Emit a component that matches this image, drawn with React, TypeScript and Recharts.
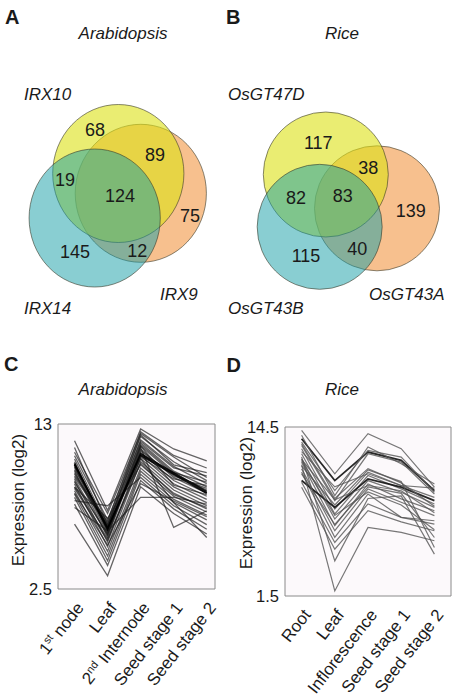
import React from 'react';
import {
  ScatterChart,
  Scatter,
  LineChart,
  Line,
  XAxis,
  YAxis,
  CartesianGrid,
  ReferenceArea,
} from 'recharts';

const FONT = '"Liberation Sans", Arial, Helvetica, sans-serif';
const INK = '#1a1a1a';

// ---------------- Venn data (set order: orange, yellow, cyan) ----------------
const arabidopsisSets = ['IRX9', 'IRX10', 'IRX14'];
const arabidopsisSetX = [0.343, 0, -0.36];
const arabidopsisSetY = [0.287, 0, 0.645];
const arabidopsisCounts = [68, 89, 19, 124, 75, 145, 12];
const arabidopsisCountX = [-0.355, 0.559, -0.813, 0.026, 1.093, -0.66, 0.29];
const arabidopsisCountY = [-0.641, -0.278, 0.08, 0.322, 0.612, 1.133, 1.109];

const riceSets = ['OsGT43A', 'OsGT47D', 'OsGT43B'];
const riceSetX = [0.819, 0, -0.098];
const riceSetY = [0.541, 0, 0.837];
const riceCounts = [117, 38, 82, 83, 139, 115, 40];
const riceCountX = [-0.12, 0.68, -0.477, 0.27, 1.358, -0.317, 0.504];
const riceCountY = [-0.515, -0.109, 0.371, 0.339, 0.584, 1.299, 1.192];

// ---------------- Expression profiles ----------------
const arabidopsisStages = ['1st node', 'Leaf', '2nd Internode', 'Seed stage 1', 'Seed stage 2'];
const arabidopsisRange = [2.5, 13];
const arabidopsisProfiles: number[][] = [
  [11.94, 7.5, 12.68, 11.41, 10.66],
  [11.2, 7.3, 12.4, 10.9, 9.6],
  [10.98, 6.9, 12.2, 10.6, 9.4],
  [10.77, 6.5, 12.0, 10.3, 9.2],
  [10.45, 6.2, 11.8, 10.0, 9.0],
  [10.24, 6.0, 11.6, 9.8, 8.8],
  [10.03, 5.8, 11.4, 9.6, 8.6],
  [9.82, 6.4, 11.2, 9.4, 8.4],
  [9.6, 6.6, 11.0, 9.2, 8.2],
  [9.39, 5.5, 10.8, 9.0, 8.0],
  [9.18, 5.2, 10.6, 8.8, 7.8],
  [8.97, 7.0, 10.4, 8.6, 7.6],
  [8.75, 4.9, 10.2, 8.4, 7.4],
  [8.54, 4.6, 10.0, 8.2, 7.2],
  [8.33, 4.3, 9.8, 8.0, 6.9],
  [8.12, 7.8, 9.6, 7.8, 6.6],
  [7.9, 4.0, 9.4, 7.6, 6.3],
  [7.69, 6.2, 8.33, 8.33, 7.9],
  [6.63, 3.34, 9.0, 7.3, 6.0],
  [10.6, 6.1, 11.5, 6.42, 7.48],
  [10.3, 6.3, 10.8, 8.0, 5.78],
  [9.9, 6.5, 12.3, 10.4, 9.9],
  [10.1, 6.7, 11.9, 10.2, 9.7],
  [9.5, 5.9, 11.7, 9.9, 9.3],
  [9.3, 6.0, 11.3, 9.7, 8.9],
  [10.5, 6.3, 11.1, 9.9, 8.7],
  [10.4, 6.4, 11.0, 9.8, 8.6],
  [8.9, 5.6, 10.9, 9.5, 9.1],
  [9.7, 6.8, 12.5, 11.0, 10.2],
  [11.5, 6.6, 11.6, 9.1, 8.5],
  [8.6, 5.3, 9.2, 8.1, 7.1],
  [9.0, 5.7, 10.5, 8.5, 7.7],
];
const arabidopsisEmphasis = [25, 26];

const riceStages = ['Root', 'Leaf', 'Inflorescence', 'Seed stage 1', 'Seed stage 2'];
const riceRange = [1.5, 14.5];
const riceProfiles: number[][] = [
  [14.24, 10.9, 13.99, 12.83, 9.87],
  [13.6, 10.38, 12.57, 11.93, 9.61],
  [13.34, 9.61, 12.7, 12.18, 9.48],
  [13.86, 9.22, 12.96, 11.67, 10.12],
  [13.08, 8.84, 12.44, 11.8, 9.35],
  [12.83, 8.19, 11.03, 9.99, 9.09],
  [12.44, 7.81, 10.77, 9.74, 8.58],
  [12.05, 7.42, 10.38, 9.48, 8.32],
  [11.8, 6.91, 10.12, 8.97, 8.06],
  [11.28, 6.52, 9.74, 8.71, 7.68],
  [11.03, 6.01, 9.35, 7.55, 7.29],
  [10.38, 8.32, 10.51, 9.87, 8.84],
  [10.25, 5.62, 8.58, 7.55, 7.03],
  [9.87, 5.1, 8.06, 7.2, 6.52],
  [11.6, 1.89, 6.78, 6.39, 5.75],
  [12.2, 4.2, 9.0, 9.2, 4.72],
  [11.5, 8.5, 11.2, 10.3, 5.23],
  [12.6, 9.9, 10.9, 10.0, 9.8],
  [13.2, 9.0, 11.3, 10.2, 8.4],
  [10.9, 7.0, 9.9, 9.4, 6.0],
  [12.0, 8.9, 10.0, 9.6, 7.9],
  [11.9, 7.7, 9.5, 8.5, 6.6],
];
const riceEmphasis = [1, 11];

// ---------------- styles ----------------
const SET_FILL = ['rgb(240,140,50)', 'rgb(220,225,20)', 'rgb(20,158,165)'];
const SET_ALPHA = [0.55, 0.6, 0.5];

type VennProps = {
  left: number;
  top: number;
  width: number;
  height: number;
  ux: number;
  uy: number;
  ox: number;
  oy: number;
  setX: number[];
  setY: number[];
  counts: number[];
  countX: number[];
  countY: number[];
};

function Venn(p: VennProps) {
  const xDomain = [-p.ox / p.ux, (p.width - p.ox) / p.ux];
  const yDomain = [-p.oy / p.uy, (p.height - p.oy) / p.uy];
  const circles = p.setX.map((x, i) => ({ x, y: p.setY[i], r: 1, idx: i }));
  const labels = p.counts.map((c, i) => ({ x: p.countX[i], y: p.countY[i], c }));
  return (
    <div style={{ position: 'absolute', left: p.left, top: p.top }}>
      <ScatterChart width={p.width} height={p.height} margin={{ top: 0, right: 0, bottom: 0, left: 0 }}>
        <XAxis type="number" dataKey="x" domain={xDomain} hide allowDataOverflow height={0} />
        <YAxis type="number" dataKey="y" domain={yDomain} hide reversed allowDataOverflow width={0} />
        <Scatter
          data={circles}
          isAnimationActive={false}
          shape={(s: any) => (
            <ellipse
              cx={s.cx}
              cy={s.cy}
              rx={s.payload.r * p.ux}
              ry={s.payload.r * p.uy}
              fill={SET_FILL[s.payload.idx]}
              fillOpacity={SET_ALPHA[s.payload.idx]}
              stroke="#3a3a2a"
              strokeOpacity={0.6}
              strokeWidth={1}
            />
          )}
        />
        <Scatter
          data={labels}
          isAnimationActive={false}
          shape={(s: any) => (
            <text
              x={s.cx}
              y={s.cy}
              dy="0.36em"
              textAnchor="middle"
              fontSize={18}
              fontFamily={FONT}
              fill={INK}
            >
              {s.payload.c}
            </text>
          )}
        />
      </ScatterChart>
    </div>
  );
}

function StageTick(props: any) {
  const { x, y, payload, labels } = props;
  const label: string = labels[Math.round(payload.value) - 1] ?? '';
  const m = label.match(/^(\d+)(st|nd|rd|th)(.*)$/);
  const ax = x + 10;
  const ay = y + 19;
  return (
    <text
      x={ax}
      y={ay}
      textAnchor="end"
      transform={`rotate(-52, ${ax}, ${ay})`}
      fontSize={17}
      fontFamily={FONT}
      fill={INK}
      style={{ whiteSpace: 'pre' }}
    >
      {m ? (
        <>
          <tspan>{m[1]}</tspan>
          <tspan fontSize={11} dy={-6}>
            {m[2]}
          </tspan>
          <tspan dy={6}>{m[3]}</tspan>
        </>
      ) : (
        label
      )}
    </text>
  );
}

type ProfileProps = {
  left: number;
  top: number;
  width: number;
  height: number;
  margin: { top: number; right: number; bottom: number; left: number };
  yAxisWidth: number;
  xMax: number;
  range: number[];
  stages: string[];
  profiles: number[][];
  emphasis: number[];
  stroke: string;
  strokeOpacity: number;
  strokeWidth: number;
  emphStroke: string;
  emphWidth: number;
};

function Profile(p: ProfileProps) {
  const xDomain = [0.5, p.xMax];
  const stageTicks = p.stages.map((_, i) => i + 1);
  const markTicks = p.stages.slice(1).map((_, i) => i + 1.5);
  return (
    <div style={{ position: 'absolute', left: p.left, top: p.top }}>
      <LineChart width={p.width} height={p.height} margin={p.margin}>
        <CartesianGrid horizontal={false} vertical={false} fill="#fcf9fb" />
        <XAxis
          xAxisId="marks"
          type="number"
          dataKey="x"
          domain={xDomain}
          ticks={markTicks}
          tick={false}
          tickLine={{ stroke: '#8a8a8a' }}
          tickSize={3}
          mirror
          axisLine={false}
          height={0}
          allowDataOverflow
        />
        <XAxis
          type="number"
          dataKey="x"
          domain={xDomain}
          ticks={stageTicks}
          interval={0}
          tickLine={false}
          tickSize={0}
          tickMargin={0}
          axisLine={false}
          height={100}
          allowDataOverflow
          tick={(tp: any) => <StageTick {...tp} labels={p.stages} />}
        />
        <YAxis
          type="number"
          domain={p.range}
          ticks={p.range}
          interval={0}
          width={p.yAxisWidth}
          tickLine={false}
          tickSize={4}
          tickMargin={2}
          axisLine={false}
          allowDataOverflow
          tick={{ fontSize: 16.5, fill: INK, fontFamily: FONT }}
        />
        {p.profiles.map((vals, i) => {
          const emph = p.emphasis.includes(i);
          return (
            <Line
              key={i}
              data={vals.map((v, j) => ({ x: j + 1, y: v }))}
              dataKey="y"
              type="linear"
              stroke={emph ? p.emphStroke : p.stroke}
              strokeOpacity={emph ? 0.9 : p.strokeOpacity}
              strokeWidth={emph ? p.emphWidth : p.strokeWidth}
              dot={false}
              activeDot={false}
              isAnimationActive={false}
            />
          );
        })}
        <ReferenceArea
          x1={xDomain[0]}
          x2={xDomain[1]}
          y1={p.range[0]}
          y2={p.range[1]}
          fill="none"
          stroke="#8a8a8a"
          strokeWidth={1}
          ifOverflow="visible"
        />
      </LineChart>
    </div>
  );
}

const abs = (style: React.CSSProperties): React.CSSProperties => ({
  position: 'absolute',
  fontFamily: FONT,
  color: INK,
  whiteSpace: 'nowrap',
  ...style,
});

function PanelLetter({ text, left, top }: { text: string; left: number; top: number }) {
  return <div style={abs({ left, top, fontSize: 20, lineHeight: '20px', fontWeight: 'bold' })}>{text}</div>;
}

function Title({ text, cx, top }: { text: string; cx: number; top: number }) {
  return (
    <div
      style={abs({
        left: cx - 100,
        top,
        width: 200,
        textAlign: 'center',
        fontSize: 17,
        lineHeight: '17px',
        fontStyle: 'italic',
      })}
    >
      {text}
    </div>
  );
}

function GeneLabel({ text, left, top }: { text: string; left: number; top: number }) {
  return <div style={abs({ left, top, fontSize: 17, lineHeight: '17px', fontStyle: 'italic' })}>{text}</div>;
}

function YLabel({ text, cx, cy }: { text: string; cx: number; cy: number }) {
  return (
    <div
      style={abs({
        left: cx - 100,
        top: cy - 10,
        width: 200,
        height: 20,
        lineHeight: '20px',
        textAlign: 'center',
        fontSize: 17,
        transform: 'rotate(-90deg)',
      })}
    >
      {text}
    </div>
  );
}

export default function App() {
  return (
    <div
      style={{
        position: 'absolute',
        left: 0,
        top: 0,
        width: 456,
        height: 699,
        background: '#ffffff',
        overflow: 'hidden',
      }}
    >
      <Venn
        left={0}
        top={0}
        width={228}
        height={330}
        ux={65.6}
        uy={69}
        ox={118.3}
        oy={173.5}
        setX={arabidopsisSetX}
        setY={arabidopsisSetY}
        counts={arabidopsisCounts}
        countX={arabidopsisCountX}
        countY={arabidopsisCountY}
      />
      <Venn
        left={228}
        top={0}
        width={228}
        height={330}
        ux={62.5}
        uy={62.5}
        ox={97.8}
        oy={174.5}
        setX={riceSetX}
        setY={riceSetY}
        counts={riceCounts}
        countX={riceCountX}
        countY={riceCountY}
      />

      <PanelLetter text="A" left={5} top={7} />
      <PanelLetter text="B" left={226} top={7} />
      <Title text="Arabidopsis" cx={123} top={24.5} />
      <Title text="Rice" cx={342} top={24.5} />

      <GeneLabel text={arabidopsisSets[1]} left={24} top={85.5} />
      <GeneLabel text={arabidopsisSets[2]} left={24} top={299.5} />
      <GeneLabel text={arabidopsisSets[0]} left={160} top={285.5} />
      <GeneLabel text={riceSets[1]} left={228} top={85.5} />
      <GeneLabel text={riceSets[2]} left={228} top={299.5} />
      <GeneLabel text={riceSets[0]} left={369} top={285.5} />

      <Profile
        left={0}
        top={330}
        width={228}
        height={369}
        margin={{ top: 94, right: 13, bottom: 10, left: 0 }}
        yAxisWidth={58}
        xMax={5.25}
        range={arabidopsisRange}
        stages={arabidopsisStages}
        profiles={arabidopsisProfiles}
        emphasis={arabidopsisEmphasis}
        stroke="#1c1c1c"
        strokeOpacity={0.68}
        strokeWidth={1.3}
        emphStroke="#000000"
        emphWidth={1.8}
      />
      <Profile
        left={228}
        top={330}
        width={228}
        height={369}
        margin={{ top: 97, right: 5, bottom: 3, left: 0 }}
        yAxisWidth={57}
        xMax={5.5}
        range={riceRange}
        stages={riceStages}
        profiles={riceProfiles}
        emphasis={riceEmphasis}
        stroke="#555555"
        strokeOpacity={0.8}
        strokeWidth={1.2}
        emphStroke="#111111"
        emphWidth={1.8}
      />

      <PanelLetter text="C" left={4} top={354} />
      <PanelLetter text="D" left={226.5} top={355} />
      <Title text="Arabidopsis" cx={123} top={380.5} />
      <Title text="Rice" cx={342} top={380.5} />
      <YLabel text="Expression (log2)" cx={18.5} cy={500} />
      <YLabel text="Expression (log2)" cx={247} cy={503} />
    </div>
  );
}
